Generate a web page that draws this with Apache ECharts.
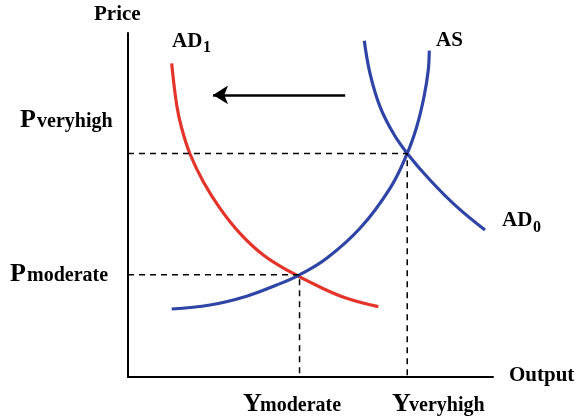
<!DOCTYPE html>
<html>
<head>
<meta charset="utf-8">
<script src="https://cdn.jsdelivr.net/npm/echarts@6/dist/echarts.min.js"></script>
<style>
  html, body { margin: 0; padding: 0; background: #fff; }
  #chart { width: 578px; height: 420px; }
</style>
</head>
<body>
<div id="chart"></div>
<script>
// data (x = output, y = price, both on a 0-100 scale)
var ad1Points = [[11.97, 91.19], [13.34, 79.07], [14.71, 72.3], [16.99, 64.83], [20.63, 56.77], [25.21, 49.04], [30.68, 41.77], [37.07, 35.47], [44.38, 30.61], [52.3, 26.3], [59.92, 22.88], [68.58, 20.44]];
var asPoints = [[11.97, 19.77], [22.47, 20.93], [32.52, 23.5], [40.74, 26.74], [47.0, 29.7], [54.44, 34.51], [63.56, 43.23], [71.78, 54.85], [76.5, 65.0], [79.1, 72.76], [81.1, 81.48], [82.27, 89.24], [82.55, 94.85]];
var ad0Points = [[64.74, 97.76], [66.3, 88.28], [69.04, 78.58], [72.68, 70.84], [76.5, 65.0], [82.74, 57.27], [90.05, 49.51], [97.81, 42.73]];

var yModerate = 47.0;
var yVeryHigh = 76.5;
var pModerate = 29.7;
var pVeryHigh = 65.0;

var arrowFrom = [59.5, 82];
var arrowTo = [23.3, 82];

var serif = '"Liberation Serif", "Times New Roman", serif';

function label(text, x, y, size) {
    return {
        type: 'text',
        x: x,
        y: y,
        style: {
            text: text,
            fill: '#000',
            font: 'bold ' + size + 'px ' + serif,
            textAlign: 'left',
            textVerticalAlign: 'middle'
        }
    };
}

var myChart = echarts.init(document.getElementById('chart'));

var option = {
    animation: false,
    grid: { left: 128, right: 85, top: 33, bottom: 43 },
    xAxis: {
        type: 'value',
        min: 0,
        max: 100,
        axisLine: { show: true, lineStyle: { color: '#000', width: 2 } },
        axisTick: { show: false },
        axisLabel: { show: false },
        splitLine: { show: false }
    },
    yAxis: {
        type: 'value',
        min: 0,
        max: 100,
        axisLine: { show: true, lineStyle: { color: '#000', width: 2 } },
        axisTick: { show: false },
        axisLabel: { show: false },
        splitLine: { show: false }
    },
    series: [
        {
            name: 'AD1',
            type: 'line',
            smooth: 0.4,
            showSymbol: false,
            data: ad1Points,
            lineStyle: { color: '#e3342a', width: 3.2 }
        },
        {
            name: 'AS',
            type: 'line',
            smooth: 0.4,
            showSymbol: false,
            data: asPoints,
            lineStyle: { color: '#2f45a6', width: 3.2 }
        },
        {
            name: 'AD0',
            type: 'line',
            smooth: 0.4,
            showSymbol: false,
            data: ad0Points,
            lineStyle: { color: '#2f45a6', width: 3.2 }
        },
        {
            name: 'moderate',
            type: 'line',
            showSymbol: false,
            data: [[0, pModerate], [yModerate, pModerate], [yModerate, 0]],
            lineStyle: { color: '#000', width: 1.5, type: [6, 5] },
            z: 3
        },
        {
            name: 'veryhigh',
            type: 'line',
            showSymbol: false,
            data: [[0, pVeryHigh], [yVeryHigh, pVeryHigh], [yVeryHigh, 0]],
            lineStyle: { color: '#000', width: 1.5, type: [6, 5] },
            z: 3
        },
        {
            name: 'shift',
            type: 'line',
            data: [],
            markLine: {
                silent: true,
                animation: false,
                symbol: ['none', 'arrow'],
                symbolSize: [14, 15],
                label: { show: false },
                lineStyle: { color: '#000', width: 2.5, type: 'solid' },
                data: [[{ coord: arrowFrom }, { coord: arrowTo }]]
            }
        }
    ],
    graphic: [
        label('Price', 94, 14.6, 21),
        label('AD', 172, 41.6, 21),
        label('1', 203, 48, 16),
        label('AS', 436, 40.6, 21),
        label('AD', 502, 220.6, 21),
        label('0', 533, 228, 16),
        label('P', 20, 120, 26),
        label('veryhigh', 37, 121.9, 20),
        label('P', 10, 274, 26),
        label('moderate', 27, 275.9, 20),
        label('Y', 243, 404, 26),
        label('moderate', 260, 405.9, 20),
        label('Y', 392, 404, 26),
        label('veryhigh', 409, 405.9, 20),
        label('Output', 509, 375.6, 21)
    ]
};

myChart.setOption(option);
</script>
</body>
</html>
